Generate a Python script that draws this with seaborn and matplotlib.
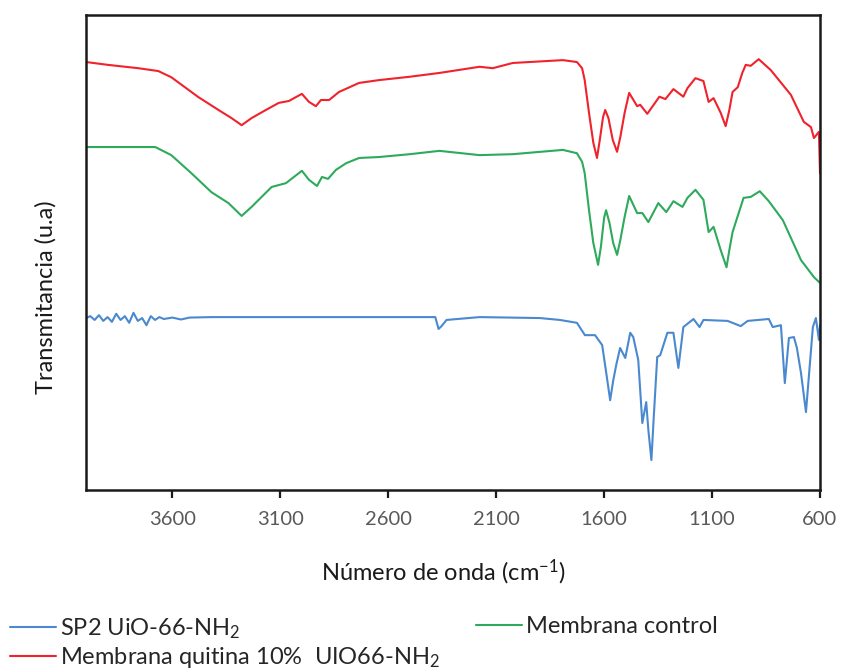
import numpy as np
import pandas as pd
import matplotlib
matplotlib.use("Agg")
import matplotlib.pyplot as plt
import seaborn as sns

# ---- data (y in arbitrary units 0-100) ----
blue_wn = [4000, 3980, 3960, 3940, 3920, 3900, 3880, 3860, 3840, 3820, 3800, 3780,
           3760, 3740, 3720, 3700, 3680, 3660, 3640, 3600, 3560, 3520, 3419, 2395,
           2382, 2367, 2353, 2330, 2177, 1898, 1805, 1726, 1689, 1642, 1609, 1590,
           1572, 1558, 1544, 1526, 1502, 1479, 1465, 1442, 1423, 1405, 1395, 1381,
           1370, 1354, 1340, 1307, 1279, 1256, 1233, 1186, 1158, 1140, 1028, 967,
           935, 837, 819, 781, 763, 744, 721, 707, 688, 665, 633, 619, 605, 600]
blue_y = [36.2, 36.6, 35.8, 36.8, 35.6, 36.4, 35.4, 37.1, 35.8, 36.6, 35.2, 37.3,
          35.6, 36.2, 34.7, 36.6, 35.8, 36.4, 36.0, 36.3, 35.9, 36.3, 36.4, 36.4,
          36.4, 33.9, 34.5, 35.8, 36.4, 36.2, 35.8, 35.2, 32.6, 32.6, 30.5, 24.6,
          18.9, 23.0, 26.3, 29.9, 27.8, 33.1, 32.2, 27.4, 14.1, 18.5, 12.6, 6.3,
          15.4, 28.0, 28.4, 33.1, 33.1, 25.7, 34.3, 36.0, 34.3, 35.8, 35.6, 34.5,
          35.6, 36.0, 34.3, 34.7, 22.5, 32.0, 32.2, 29.9, 24.6, 16.4, 34.3, 36.2,
          31.6, 34.7]

green_wn = [4000, 3758, 3679, 3605, 3512, 3419, 3340, 3279, 3233, 3140, 3074, 3000,
            2967, 2930, 2907, 2879, 2842, 2795, 2735, 2642, 2500, 2363, 2177, 2023,
            1791, 1726, 1702, 1690, 1670, 1650, 1628, 1615, 1600, 1591, 1575, 1558,
            1540, 1525, 1505, 1484, 1447, 1423, 1395, 1349, 1312, 1279, 1237, 1214,
            1177, 1140, 1116, 1093, 1060, 1033, 1020, 1005, 954, 921, 879, 837, 772,
            688, 628, 600]
green_y = [72.2, 72.2, 72.2, 70.5, 66.7, 62.7, 60.4, 57.7, 59.6, 63.8, 64.6, 67.2,
           65.3, 64.0, 65.9, 65.5, 67.4, 68.8, 69.9, 70.1, 70.7, 71.4, 70.5, 70.7,
           71.6, 70.9, 69.1, 66.7, 58.9, 52.0, 47.4, 51.2, 57.3, 58.9, 56.2, 52.0,
           49.5, 52.6, 57.5, 61.9, 58.3, 58.3, 56.4, 60.4, 58.5, 60.8, 59.6, 61.5,
           63.2, 61.1, 54.3, 55.4, 50.5, 46.9, 50.5, 54.3, 61.5, 61.7, 62.9, 60.8,
           56.8, 48.4, 44.8, 43.6]

red_wn = [4000, 3898, 3758, 3665, 3605, 3479, 3386, 3326, 3279, 3233, 3167, 3107,
          3060, 3000, 2967, 2935, 2912, 2874, 2828, 2735, 2642, 2500, 2363, 2177,
          2116, 2023, 1791, 1726, 1702, 1690, 1670, 1650, 1633, 1620, 1605, 1595,
          1580, 1560, 1540, 1525, 1505, 1484, 1447, 1433, 1400, 1344, 1316, 1279,
          1233, 1214, 1177, 1140, 1116, 1093, 1060, 1037, 1020, 1005, 981, 960, 944,
          921, 884, 828, 735, 675, 642, 628, 605, 600]
red_y = [90.1, 89.5, 88.8, 88.2, 86.9, 82.7, 80.0, 78.3, 76.8, 78.3, 80.0, 81.5,
         81.9, 83.4, 81.7, 80.8, 82.1, 82.1, 83.8, 85.7, 86.3, 87.0, 87.8, 89.1,
         88.8, 89.9, 90.5, 90.1, 88.8, 86.3, 79.4, 73.1, 69.9, 73.7, 78.5, 80.0,
         78.3, 73.7, 71.2, 74.3, 79.4, 83.6, 80.8, 81.1, 79.2, 82.8, 82.3, 84.4,
         82.8, 84.6, 86.7, 86.1, 81.7, 82.5, 79.4, 76.6, 80.0, 83.8, 84.8, 87.8,
         89.5, 89.3, 90.7, 88.4, 83.2, 77.5, 76.4, 74.1, 75.4, 66.7]

series_names = ["SP2 UiO-66-NH$_2$", "Membrana quitina 10%  UIO66-NH$_2$", "Membrana control"]
x_ticks = [3600, 3100, 2600, 2100, 1600, 1100, 600]
x_label = "Número de onda (cm$^{-1}$)"
y_label = "Transmitancia (u.a)"

colors = {series_names[0]: "#4A89CF", series_names[1]: "#F0222B", series_names[2]: "#2EAA5C"}

df = pd.concat([
    pd.DataFrame({"wn": blue_wn, "T": blue_y, "serie": series_names[0]}),
    pd.DataFrame({"wn": red_wn, "T": red_y, "serie": series_names[1]}),
    pd.DataFrame({"wn": green_wn, "T": green_y, "serie": series_names[2]}),
], ignore_index=True)

sns.set_theme(style="white")
plt.rcParams["font.family"] = ["Lato", "DejaVu Sans"]
plt.rcParams["mathtext.fontset"] = "custom"
plt.rcParams["mathtext.rm"] = "Lato"
plt.rcParams["mathtext.it"] = "Lato:italic"
plt.rcParams["mathtext.bf"] = "Lato:bold"

W, H = 843, 669
fig = plt.figure(figsize=(W / 100, H / 100), dpi=100)
ax = fig.add_axes([86 / W, 1 - 490 / H, (820 - 86) / W, (490 - 15) / H])

for name in series_names:
    sub = df[df["serie"] == name]
    sns.lineplot(data=sub, x="wn", y="T", ax=ax, color=colors[name], lw=1.5,
                 sort=False, estimator=None, label=name, legend=False,
                 solid_joinstyle="round")

ax.set_xlim(4000, 600)
ax.set_ylim(0, 100)
ax.set_xticks(x_ticks)
ax.set_xticklabels([str(t) for t in x_ticks])
ax.set_yticks([])
ax.tick_params(axis="x", direction="out", length=6, width=1.6, color="#1a1a1a",
               labelsize=14.5, labelcolor="#595959", pad=9, bottom=True)
for s in ax.spines.values():
    s.set_visible(True)
    s.set_color("#1a1a1a")
    s.set_linewidth(1.8)

ax.set_xlabel(x_label, fontsize=17, color="#1a1a1a")
ax.xaxis.set_label_coords((443 - 86) / 734, (490 - 558) / 475)
ax.set_ylabel(y_label, fontsize=17, color="#1a1a1a")
ax.yaxis.set_label_coords((57 - 86) / 734, (490 - 297) / 475)

handles, labels = ax.get_legend_handles_labels()
h = dict(zip(labels, handles))
leg_kw = dict(loc="upper left", frameon=False, fontsize=17, handlelength=1.95,
              handletextpad=0.17, labelspacing=0.2, borderaxespad=0, borderpad=0)
leg1 = fig.legend([h[series_names[0]], h[series_names[1]]], series_names[:2],
                  bbox_to_anchor=(10 / W, 1 - 616 / H), **leg_kw)
leg2 = fig.legend([h[series_names[2]]], series_names[2:],
                  bbox_to_anchor=(476 / W, 1 - 616 / H), **leg_kw)

fig.savefig("out.png", dpi=100)
